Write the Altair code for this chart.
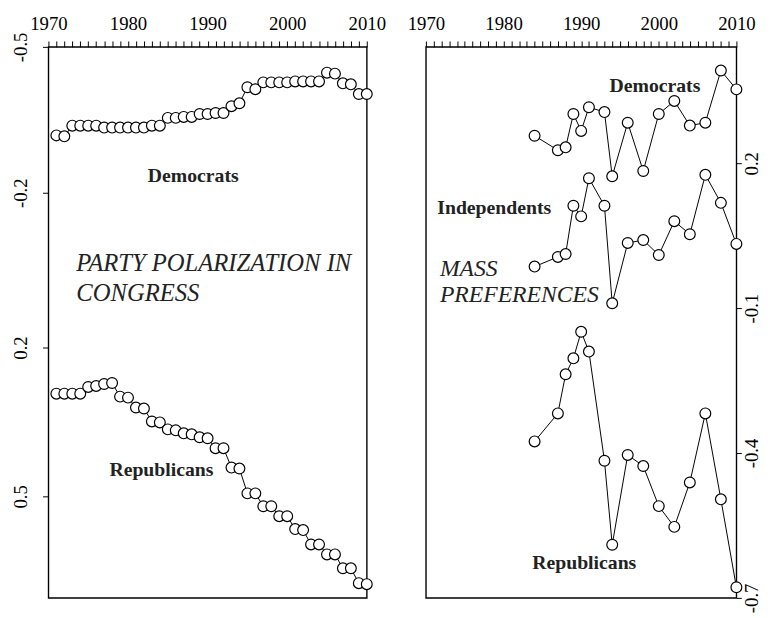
import altair as alt
import pandas as pd

FONT = "Liberation Serif"

# ---------------- Left panel: party polarization in Congress ----------------
cong_years = list(range(1971, 2011))
cong_dem = [-0.318, -0.316, -0.338, -0.338, -0.338, -0.338, -0.334, -0.334,
            -0.334, -0.334, -0.334, -0.334, -0.338, -0.338, -0.354, -0.354,
            -0.356, -0.356, -0.362, -0.362, -0.364, -0.364, -0.378, -0.384,
            -0.417, -0.413, -0.427, -0.427, -0.427, -0.427, -0.429, -0.429,
            -0.429, -0.429, -0.447, -0.445, -0.425, -0.423, -0.403, -0.403]
cong_rep = [0.293, 0.293, 0.293, 0.293, 0.2795, 0.2775, 0.2735, 0.2715,
            0.299, 0.301, 0.321, 0.323, 0.349, 0.351, 0.365, 0.367,
            0.373, 0.375, 0.381, 0.383, 0.403, 0.403, 0.442, 0.444,
            0.494, 0.494, 0.520, 0.520, 0.540, 0.540, 0.566, 0.568,
            0.597, 0.597, 0.617, 0.617, 0.645, 0.645, 0.675, 0.677]
left_ticks = [-0.5, -0.2, 0.2, 0.5]

# ---------------- Right panel: mass preferences ----------------
mass_years = [1984, 1987, 1988, 1989, 1990, 1991, 1993, 1994, 1996, 1998,
              2000, 2002, 2004, 2006, 2008, 2010]
mass_dem = [0.257, 0.227, 0.233, 0.302, 0.267, 0.316, 0.306, 0.173, 0.284,
            0.184, 0.302, 0.329, 0.278, 0.284, 0.392, 0.353]
mass_ind = [-0.014, 0.006, 0.012, 0.112, 0.090, 0.169, 0.112, -0.090, 0.035,
            0.041, 0.010, 0.080, 0.053, 0.176, 0.118, 0.033]
mass_rep = [-0.376, -0.318, -0.237, -0.204, -0.149, -0.190, -0.416, -0.590,
            -0.404, -0.427, -0.510, -0.553, -0.461, -0.318, -0.496, -0.678]
right_ticks = [0.2, -0.1, -0.4, -0.7]

year_ticks = list(range(1970, 2011))

# annotation texts (positions in data units)
left_labels = ["Democrats", "Republicans"]
left_label_x = [1988.2, 1984.2]
left_label_y = [-0.234, 0.448]
left_title = ["PARTY POLARIZATION IN", "CONGRESS"]
left_title_x = [1973.5, 1973.5]
left_title_y = [-0.018, 0.060]

right_labels = ["Democrats", "Independents", "Republicans"]
right_label_x = [1999.5, 1978.8, 1990.4]
right_label_y = [0.359, 0.108, -0.629]
right_title = ["MASS", "PREFERENCES"]
right_title_x = [1971.8, 1971.8]
right_title_y = [-0.020, -0.074]

# ---------------- tables ----------------
cong = pd.concat([
    pd.DataFrame({"year": cong_years, "value": cong_dem, "party": "Democrats"}),
    pd.DataFrame({"year": cong_years, "value": cong_rep, "party": "Republicans"}),
])
mass = pd.concat([
    pd.DataFrame({"year": mass_years, "value": mass_dem, "party": "Democrats"}),
    pd.DataFrame({"year": mass_years, "value": mass_ind, "party": "Independents"}),
    pd.DataFrame({"year": mass_years, "value": mass_rep, "party": "Republicans"}),
])
lab_l = pd.DataFrame({"year": left_label_x, "value": left_label_y, "t": left_labels})
tit_l = pd.DataFrame({"year": left_title_x, "value": left_title_y, "t": left_title})
lab_r = pd.DataFrame({"year": right_label_x, "value": right_label_y, "t": right_labels})
tit_r = pd.DataFrame({"year": right_title_x, "value": right_title_y, "t": right_title})

H = 559
MINUS_FIX = "replace(format(datum.value, '.1f'), '\u2212', '-')"


def top_axis():
    return alt.Axis(orient="top", values=year_ticks,
                    labelExpr="datum.value % 10 == 0 ? format(datum.value, 'd') : ''",
                    labelOverlap=False, labelFlush=False, labelBound=False,
                    tickSize=6, tickColor="black", tickWidth=1, domain=False,
                    grid=False, labelFontSize=19, labelFont=FONT,
                    labelColor="black", labelPadding=8, title=None)


def layers(data, lab, tit, x, y, title_size):
    line = alt.Chart(data).mark_line(color="black", strokeWidth=1).encode(
        x=x, y=y, detail="party:N", order="year:Q")
    pts = alt.Chart(data).mark_circle(fill="white", stroke="black",
                                       strokeWidth=1.2, size=120,
                                       opacity=1).encode(x=x, y=y)
    txt = alt.Chart(lab).mark_text(font=FONT, fontSize=20, fontWeight="bold",
                                   color="#222", align="center",
                                   baseline="middle").encode(
        x=x, y=y, text="t:N")
    ttl = alt.Chart(tit).mark_text(font=FONT, fontSize=title_size, fontStyle="italic",
                                   color="#222", align="left",
                                   baseline="middle").encode(
        x=x, y=y, text="t:N")
    return line, pts, txt, ttl


xl = alt.X("year:Q", scale=alt.Scale(domain=[1970, 2010], nice=False, zero=False),
           axis=top_axis())
yl = alt.Y("value:Q",
           scale=alt.Scale(domain=left_ticks, range=[0, 148, 305, 456],
                           nice=False, zero=False),
           axis=alt.Axis(orient="left", values=left_ticks, labelExpr=MINUS_FIX,
                         labelAngle=270, labelAlign="center", labelBaseline="bottom",
                         tickSize=6, tickColor="black", labelPadding=12,
                         domain=False, grid=False, labelFontSize=19,
                         labelFont=FONT, labelColor="black", title=None))
left = alt.layer(*layers(cong, lab_l, tit_l, xl, yl, 25)).properties(width=323, height=H)

xr = alt.X("year:Q", scale=alt.Scale(domain=[1970, 2010], nice=False, zero=False),
           axis=top_axis())
yr = alt.Y("value:Q",
           scale=alt.Scale(domain=[-0.7, 0.441], nice=False, zero=False),
           axis=alt.Axis(orient="right", values=right_ticks, labelExpr=MINUS_FIX,
                         labelAngle=270, labelAlign="center", labelBaseline="top",
                         tickSize=5, tickColor="black", labelPadding=1,
                         domain=False, grid=False, labelFontSize=19,
                         labelFont=FONT, labelColor="black", title=None))
right = alt.layer(*layers(mass, lab_r, tit_r, xr, yr, 24)).properties(width=315, height=H)

chart = alt.hconcat(left, right, spacing=60, bounds="flush").resolve_scale(
    x="independent", y="independent"
).properties(
    padding={"left": 3, "top": 1, "right": 2, "bottom": 2},
    background="white",
).configure_view(stroke="black", strokeWidth=1.4)

chart.save("out.html", embed_options={"renderer": "svg", "actions": False})
